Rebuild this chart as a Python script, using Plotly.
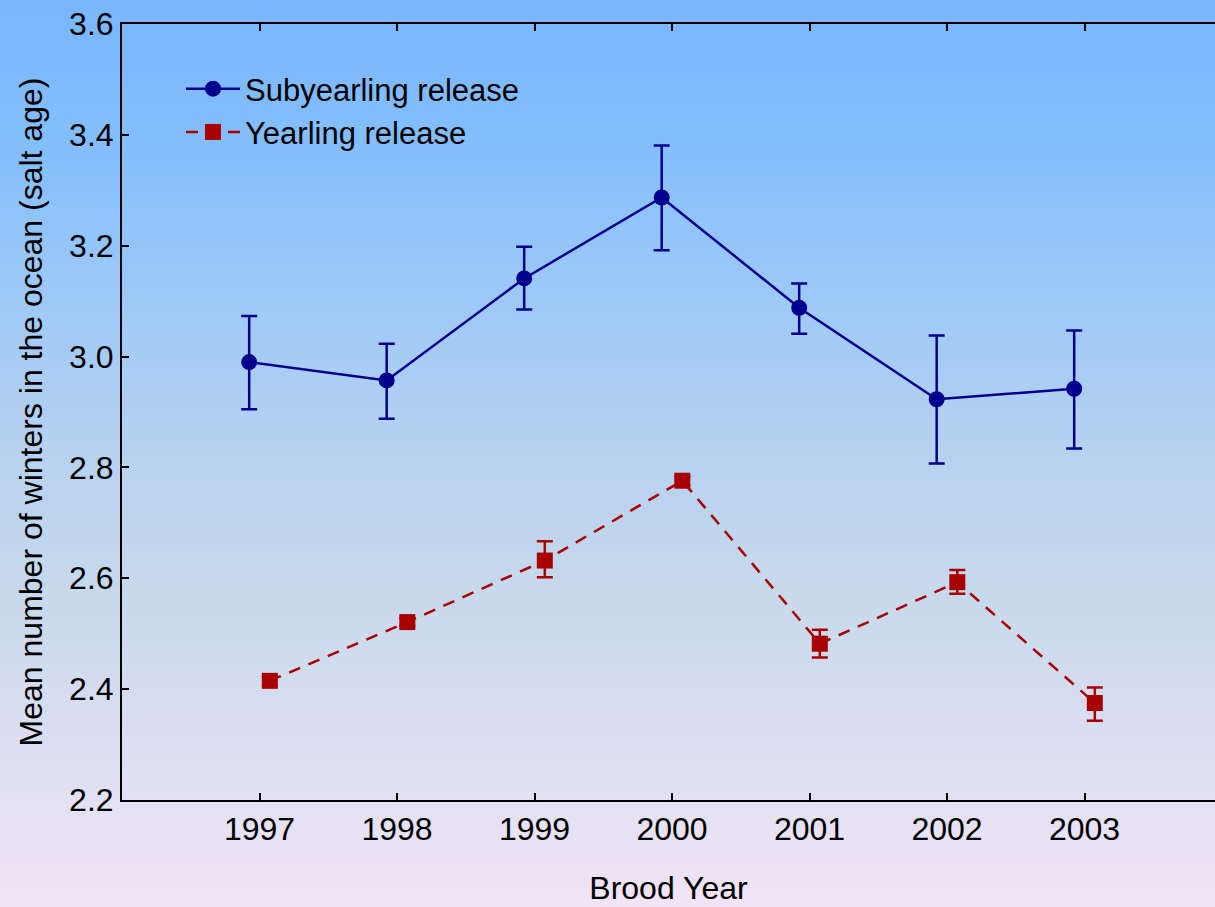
import plotly.graph_objects as go

# ---- data ----
years = [1997, 1998, 1999, 2000, 2001, 2002, 2003]
sub_mean = [2.990, 2.957, 3.141, 3.287, 3.088, 2.923, 2.942]
sub_upper = [3.073, 3.023, 3.198, 3.381, 3.132, 3.038, 3.047]
sub_lower = [2.905, 2.888, 3.085, 3.192, 3.041, 2.807, 2.834]
year_mean = [2.415, 2.521, 2.632, 2.776, 2.482, 2.593, 2.375]
year_upper = [2.423, 2.528, 2.667, 2.784, 2.507, 2.615, 2.403]
year_lower = [2.407, 2.514, 2.602, 2.768, 2.457, 2.572, 2.343]
y_ticks = [2.2, 2.4, 2.6, 2.8, 3.0, 3.2, 3.4, 3.6]
x_offset = 0.075

W, H = 1215, 907
ML, MR, MT, MB = 122, 0, 24, 107

FONT = "Liberation Sans, Arial, sans-serif"
FS = 32
BLUE = "#00008C"
RED = "#A80000"

sub_x = [y - x_offset for y in years]
yr_x = [y + x_offset for y in years]

fig = go.Figure()
fig.add_trace(go.Scatter(
    x=sub_x, y=sub_mean, mode="lines+markers", name="Subyearling release",
    line=dict(color=BLUE, width=2.5),
    marker=dict(symbol="circle", size=16, color=BLUE),
    error_y=dict(type="data", symmetric=False,
                 array=[u - m for u, m in zip(sub_upper, sub_mean)],
                 arrayminus=[m - l for m, l in zip(sub_mean, sub_lower)],
                 color=BLUE, thickness=2.5, width=8),
))
fig.add_trace(go.Scatter(
    x=yr_x, y=year_mean, mode="lines+markers", name="Yearling release",
    line=dict(color=RED, width=2.5, dash="12px,9px"),
    marker=dict(symbol="square", size=16, color=RED),
    error_y=dict(type="data", symmetric=False,
                 array=[u - m for u, m in zip(year_upper, year_mean)],
                 arrayminus=[m - l for m, l in zip(year_mean, year_lower)],
                 color=RED, thickness=2.5, width=8),
))

# ---- gradient background (figure-wide) ----
stops = [(0, (121, 182, 253)), (150, (132, 190, 252)), (300, (158, 201, 247)),
         (450, (182, 209, 240)), (600, (200, 217, 236)), (750, (220, 223, 241)),
         (907, (241, 228, 246))]

def col_at(p):
    for (p0, c0), (p1, c1) in zip(stops[:-1], stops[1:]):
        if p0 <= p <= p1:
            t = (p - p0) / (p1 - p0)
            return "rgb(%d,%d,%d)" % tuple(round(a + (b - a) * t) for a, b in zip(c0, c1))
    return "rgb(%d,%d,%d)" % stops[-1][1]

pw = W - ML - MR
ph = H - MT - MB
shapes = []
step = 6
for p in range(0, H, step):
    y1 = (H - MB - p) / ph
    y0 = (H - MB - (p + step + 1)) / ph
    shapes.append(dict(type="rect", xref="paper", yref="paper",
                       x0=-ML / pw - 0.01, x1=1.01, y0=y0, y1=y1,
                       fillcolor=col_at(p + step / 2), line=dict(width=0),
                       layer="below"))

fig.update_layout(
    width=W, height=H,
    margin=dict(l=ML, r=MR, t=MT, b=MB, pad=0),
    paper_bgcolor="rgb(180,205,240)",
    plot_bgcolor="rgba(0,0,0,0)",
    shapes=shapes,
    font=dict(family=FONT, size=FS, color="black"),
    showlegend=True,
    legend=dict(x=(181 - ML) / pw, y=(H - MB - 62) / ph, xanchor="left", yanchor="top",
                bgcolor="rgba(0,0,0,0)", font=dict(size=31, family=FONT),
                itemwidth=54, tracegroupgap=0),
    xaxis=dict(range=[1996, 1996 + pw / 137.5], tickvals=years,
               ticktext=[str(y) for y in years],
               showgrid=False, zeroline=False, showline=True, linecolor="black",
               linewidth=2, ticks="inside", ticklen=7, tickwidth=2, tickcolor="black",
               mirror="ticks", tickfont=dict(size=FS, family=FONT),
               title=dict(text="Brood Year", standoff=30, font=dict(size=FS, family=FONT)),
               automargin=False),
    yaxis=dict(range=[2.2, 3.6], tickvals=y_ticks,
               ticktext=["%.1f" % v for v in y_ticks],
               showgrid=False, zeroline=False, showline=True, linecolor="black",
               linewidth=2, ticks="inside", ticklen=7, tickwidth=2, tickcolor="black",
               mirror=False, tickfont=dict(size=FS, family=FONT),
               title=dict(text="Mean number of winters in the ocean (salt age)",
                          standoff=17, font=dict(size=FS, family=FONT)),
               automargin=False),
)

fig.write_html(
    "out.html",
    config={"displayModeBar": False},
    post_script="document.body.style.margin='0';document.body.style.overflow='hidden';",
)
